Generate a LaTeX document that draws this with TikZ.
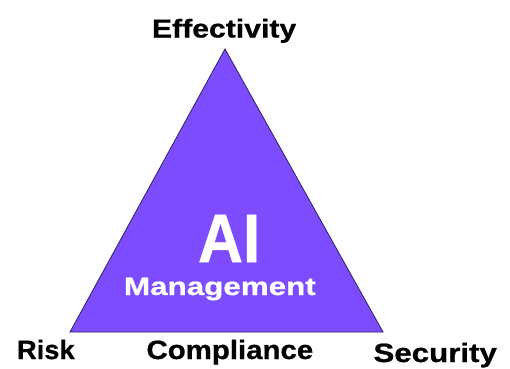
\documentclass[tikz,border=0pt]{standalone}
\usepackage{fontspec}
\setmainfont{Liberation Sans}[BoldFeatures={FakeBold=0.7}]
\definecolor{tri}{HTML}{7D4CFF}
\definecolor{triedge}{HTML}{2E1F66}
\begin{document}
\begin{tikzpicture}[x=1pt,y=-1pt,
  lbl/.style={anchor=base west,inner sep=0pt,outer sep=0pt,font=\bfseries},
  inlbl/.style={lbl,text=white}]
\useasboundingbox (0,0) rectangle (510,368);
\coordinate (top) at (225,49);
\coordinate (bl) at (70,332);
\coordinate (br) at (383,332);
\draw[fill=tri,draw=triedge,line width=0.8pt,line join=miter] (top) -- (bl) -- (br) -- cycle;
\node[lbl] (eff) at (152,37.5) {\fontsize{25.8}{30}\selectfont\scalebox{1.17}[1]{Effectivity}};
\node[lbl] (risk) at (17,359) {\fontsize{26.5}{30}\selectfont\scalebox{1.03}[1]{Risk}};
\node[lbl] (comp) at (146.5,359) {\fontsize{26.5}{30}\selectfont\scalebox{1.11}[1]{Compliance}};
\node[lbl] (sec) at (373.5,362) {\fontsize{26.5}{30}\selectfont\scalebox{1.18}[1]{Security}};
\node[inlbl] (ai) at (198,262) {\fontsize{68.4}{70}\selectfont\scalebox{0.91}[1]{AI}};
\node[inlbl] (mgmt) at (124,295) {\fontsize{25.1}{30}\selectfont\scalebox{1.25}[1]{Management}};
\end{tikzpicture}
\end{document}
